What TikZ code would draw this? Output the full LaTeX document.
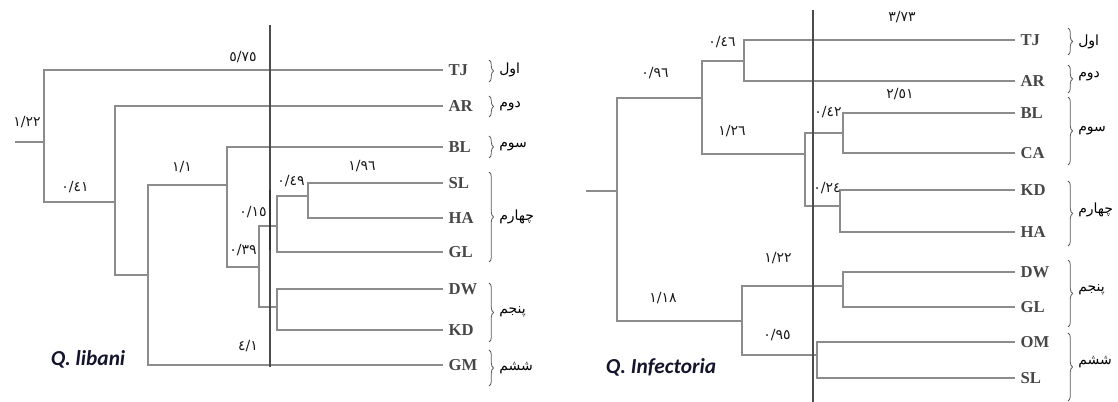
\documentclass[tikz,border=0pt]{standalone}
\usepackage{fontspec}
\usetikzlibrary{decorations.pathreplacing}
\TeXXeTstate=1
\newfontfamily\arabicfont[Script=Arabic]{DejaVu Sans}
\newfontfamily\numfont{DejaVu Sans}
\newfontfamily\taxfont{Liberation Serif}
\newfontfamily\titfont{Carlito}
\definecolor{branch}{RGB}{140,140,140}
\definecolor{titcol}{RGB}{20,20,45}
\tikzset{
  br/.style={draw=branch, line width=1.6pt},
  brthin/.style={draw=branch, line width=1.1pt},
  cutline/.style={draw=black!70, line width=1pt},
  tax/.style={anchor=west, inner xsep=4pt, inner ysep=0pt, font=\taxfont\bfseries\fontsize{12.5}{13}\selectfont, text=black!72},
  num/.style={inner sep=0pt, font=\numfont\fontsize{10.5}{10}\selectfont, text=black!90},
  grp/.style={anchor=west, inner sep=0pt, font=\arabicfont\fontsize{10.5}{11}\selectfont},
  brc/.style={draw=black!65, line width=0.6pt, decorate, decoration={brace, amplitude=3.5pt}},
  ttl/.style={inner sep=0pt, font=\titfont\bfseries\itshape\fontsize{16}{16}\selectfont, text=titcol}
}
\begin{document}
\begin{tikzpicture}[x=0.75pt, y=-0.75pt]
\useasboundingbox (0,0) rectangle (1118,402);
% ================= LEFT TREE (Q. libani) =================
\node[tax] (lTJ) at (443,70) {TJ};
\node[tax] (lAR) at (443,106) {AR};
\node[tax] (lBL) at (443,147) {BL};
\node[tax] (lSL) at (443,183) {SL};
\node[tax] (lHA) at (443,218) {HA};
\node[tax] (lGL) at (443,252) {GL};
\node[tax] (lDW) at (443,289) {DW};
\node[tax] (lKD) at (443,330) {KD};
\node[tax] (lGM) at (443,365) {GM};
\coordinate (lS) at (15,142);
\coordinate (lR) at (44,142);
\coordinate (lA) at (115,202);
\coordinate (lB) at (148,275);
\coordinate (lC) at (227,185);
\coordinate (lD) at (259,267);
\coordinate (lE) at (277,226);
\coordinate (lF) at (277,307);
\coordinate (lG) at (308,196);
\draw[br] (lS) -- (lR);
\draw[br] (lR) |- (lTJ.west);
\draw[brthin] (lR) |- (lA);
\draw[br] (lA) |- (lAR.west);
\draw[brthin] (lA) |- (lB);
\draw[br] (lB) |- (lC);
\draw[brthin] (lB) |- (lGM.west);
\draw[br] (lC) |- (lBL.west);
\draw[brthin] (lC) |- (lD);
\draw[brthin] (lD) |- (lE);
\draw[brthin] (lD) |- (lF);
\draw[brthin] (lE) |- (lG);
\draw[brthin] (lE) |- (lGL.west);
\draw[br] (lG) |- (lSL.west);
\draw[br] (lG) |- (lHA.west);
\draw[brthin] (lF) |- (lDW.west);
\draw[brthin] (lF) |- (lKD.west);
\coordinate (lcT) at (270,25);
\coordinate (lcB) at (270,367);
\coordinate (lcM1) at (270,190);
\coordinate (lcM2) at (270,250);
\draw[cutline] (lcT) -- (lcB);
\draw[draw=black!80, line width=2pt] (lcM1) -- (lcM2);
\node[num] (ln1) at (243,57) {٥/٧٥};
\node[num] (ln2) at (27,122) {١/٢٢};
\node[num] (ln3) at (75,187) {٠/٤١};
\node[num] (ln4) at (182,167) {١/١};
\node[num] (ln5) at (362,166) {١/٩٦};
\node[num] (ln6) at (291,181) {٠/٤٩};
\node[num] (ln7) at (253,212) {٠/١٥};
\node[num] (ln8) at (243,250) {٠/٣٩};
\node[num] (ln9) at (248,346) {٤/١};
\coordinate (lb1t) at (489,60);  \coordinate (lb1b) at (489,82);
\coordinate (lb2t) at (489,96);  \coordinate (lb2b) at (489,117);
\coordinate (lb3t) at (489,136); \coordinate (lb3b) at (489,158);
\coordinate (lb4t) at (489,172); \coordinate (lb4b) at (489,262);
\coordinate (lb5t) at (489,283); \coordinate (lb5b) at (489,342);
\coordinate (lb6t) at (489,350); \coordinate (lb6b) at (489,386);
\draw[brc] (lb1t) -- (lb1b);
\draw[brc] (lb2t) -- (lb2b);
\draw[brc] (lb3t) -- (lb3b);
\draw[brc] (lb4t) -- (lb4b);
\draw[brc] (lb5t) -- (lb5b);
\draw[brc] (lb6t) -- (lb6b);
\node[grp] (lg1) at (499,70) {\beginR اول\endR};
\node[grp] (lg2) at (499,106) {\beginR دوم\endR};
\node[grp] (lg3) at (499,147) {\beginR سوم\endR};
\node[grp] (lg4) at (499,217) {\beginR چهارم\endR};
\node[grp] (lg5) at (499,312) {\beginR پنجم\endR};
\node[grp] (lg6) at (499,368) {\beginR ششم\endR};
\node[ttl] (lt) at (88,359) {Q. libani};
% ================= RIGHT TREE (Q. infectoria) =================
\node[tax] (rTJ) at (1015,40) {TJ};
\node[tax] (rAR) at (1015,81) {AR};
\node[tax] (rBL) at (1015,113) {BL};
\node[tax] (rCA) at (1015,153) {CA};
\node[tax] (rKD) at (1015,190) {KD};
\node[tax] (rHA) at (1015,232) {HA};
\node[tax] (rDW) at (1015,272) {DW};
\node[tax] (rGL) at (1015,307) {GL};
\node[tax] (rOM) at (1015,342) {OM};
\node[tax] (rSL) at (1015,378) {SL};
\coordinate (rS) at (586,191);
\coordinate (rR) at (617,191);
\coordinate (rA) at (702,98);
\coordinate (rB) at (742,321);
\coordinate (rC) at (744,61);
\coordinate (rD) at (805,154);
\coordinate (rE) at (843,133);
\coordinate (rF) at (840,206);
\coordinate (rG) at (843,286);
\coordinate (rH) at (817,355);
\draw[br] (rS) -- (rR);
\draw[br] (rR) |- (rA);
\draw[br] (rR) |- (rB);
\draw[br] (rA) |- (rC);
\draw[br] (rA) |- (rD);
\draw[br] (rC) |- (rTJ.west);
\draw[br] (rC) |- (rAR.west);
\draw[br] (rD) |- (rE);
\draw[br] (rD) |- (rF);
\draw[br] (rE) |- (rBL.west);
\draw[br] (rE) |- (rCA.west);
\draw[br] (rF) |- (rKD.west);
\draw[br] (rF) |- (rHA.west);
\draw[br] (rB) |- (rG);
\draw[br] (rB) |- (rH);
\draw[br] (rG) |- (rDW.west);
\draw[br] (rG) |- (rGL.west);
\draw[br] (rH) |- (rOM.west);
\draw[br] (rH) |- (rSL.west);
\coordinate (rcT) at (813,10);
\coordinate (rcB) at (813,402);
\draw[cutline] (rcT) -- (rcB);
\node[num] (rn1) at (902,17) {٣/٧٣};
\node[num] (rn2) at (722,42) {٠/٤٦};
\node[num] (rn3) at (655,73) {٠/٩٦};
\node[num] (rn4) at (732,131) {١/٢٦};
\node[num] (rn5) at (900,94) {٢/٥١};
\node[num] (rn6) at (828,112) {٠/٤٢};
\node[num] (rn7) at (827,188) {٠/٢٤};
\node[num] (rn8) at (778,258) {١/٢٢};
\node[num] (rn9) at (663,298) {١/١٨};
\node[num] (rn10) at (777,335) {٠/٩٥};
\coordinate (rb1t) at (1068,28);  \coordinate (rb1b) at (1068,55);
\coordinate (rb2t) at (1068,65);  \coordinate (rb2b) at (1068,93);
\coordinate (rb3t) at (1068,97);  \coordinate (rb3b) at (1068,165);
\coordinate (rb4t) at (1068,181); \coordinate (rb4b) at (1068,246);
\coordinate (rb5t) at (1068,260); \coordinate (rb5b) at (1068,327);
\coordinate (rb6t) at (1068,333); \coordinate (rb6b) at (1068,401);
\draw[brc] (rb1t) -- (rb1b);
\draw[brc] (rb2t) -- (rb2b);
\draw[brc] (rb3t) -- (rb3b);
\draw[brc] (rb4t) -- (rb4b);
\draw[brc] (rb5t) -- (rb5b);
\draw[brc] (rb6t) -- (rb6b);
\node[grp] (rg1) at (1078,42) {\beginR اول\endR};
\node[grp] (rg2) at (1078,76) {\beginR دوم\endR};
\node[grp] (rg3) at (1078,131) {\beginR سوم\endR};
\node[grp] (rg4) at (1078,210) {\beginR چهارم\endR};
\node[grp] (rg5) at (1078,290) {\beginR پنجم\endR};
\node[grp] (rg6) at (1078,362) {\beginR ششم\endR};
\node[ttl] (rt) at (661,367) {Q. Infectoria};
\end{tikzpicture}
\end{document}
